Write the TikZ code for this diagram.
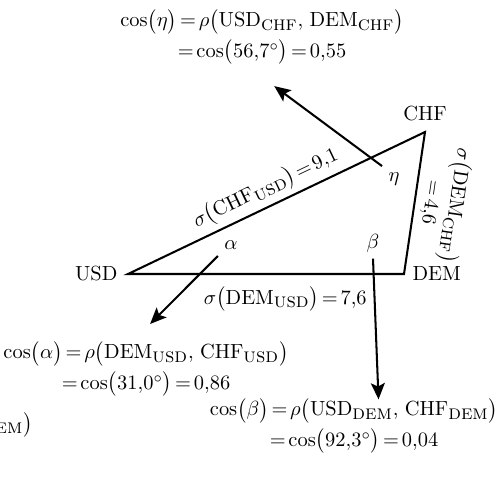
\documentclass[tikz,border=0pt]{standalone}
\usepackage{amsmath}
\usepackage{tikz}
\usetikzlibrary{positioning, arrows.meta}
\newcommand{\cc}[1]{_{\mbox{\normalsize\textsc{#1}}}}
\thickmuskip=2.5mu plus 1mu

\begin{document}
\begin{tikzpicture}[
        x=0.0172cm, y=-0.0172cm,
        side/.style={line width=1pt, line join=miter},
        curr/.style={inner sep=3pt},
        angle/.style={inner sep=3pt},
        sidelabel/.style={inner sep=2pt},
        formula/.style={align=center},
        arrow/.style={line width=1pt, -{Stealth[length=2.8mm, width=2.4mm, inset=0.6mm]}}
    ]
    \useasboundingbox (0,0) rectangle (496,477);

    % triangle of currencies
    \coordinate (usd) at (128,274);
    \coordinate (dem) at (404,274);
    \coordinate (chf) at (425,132);
    \draw[side] (usd) -- (dem) -- (chf) -- cycle;

    \node[curr, left=2pt of usd] (usdlabel) {USD};
    \node[curr, right=1pt of dem] (demlabel) {DEM};
    \node[curr, above=2pt of chf] (chflabel) {CHF};

    % volatilities along the sides
    \path (usd) -- node[sidelabel, sloped, above=0.5pt, pos=0.49] (sigchf) {$\sigma\bigl(\mathrm{CHF}\cc{usd}\bigr) = 9{,}1$} (chf);
    \path (usd) -- node[sidelabel, below=4pt, pos=0.57] (sigdem) {$\sigma\bigl(\mathrm{DEM}\cc{usd}\bigr) = 7{,}6$} (dem);
    \path (chf) -- node[sidelabel, sloped, allow upside down, above=1pt, pos=0.48, align=center] (sigdemchf) {$\sigma\bigl(\mathrm{DEM}\cc{chf}\bigr)$\\$= 4{,}6$} (dem);

    % angles
    \node[angle] (alpha) at (231,245) {$\alpha$};
    \node[angle] (beta) at (373,243) {$\beta$};
    \node[angle] (eta) at (394,179) {$\eta$};

    % correlations
    \node[formula] (feta) at (262,37) {$\cos\bigl(\eta\bigr) = \rho\bigl(\mathrm{USD}\cc{chf},\;\mathrm{DEM}\cc{chf}\bigr)$\\[2pt]$= \cos\bigl(56{,}7^\circ\bigr) = 0{,}55$};
    \node[formula] (falpha) at (146,369) {$\cos\bigl(\alpha\bigr) = \rho\bigl(\mathrm{DEM}\cc{usd},\;\mathrm{CHF}\cc{usd}\bigr)$\\[2pt]$= \cos\bigl(31{,}0^\circ\bigr) = 0{,}86$};
    \node[formula] (fbeta) at (354,426) {$\cos\bigl(\beta\bigr) = \rho\bigl(\mathrm{USD}\cc{dem},\;\mathrm{CHF}\cc{dem}\bigr)$\\[2pt]$= \cos\bigl(92{,}3^\circ\bigr) = 0{,}04$};

    \begin{scope}
        \clip (0,0) rectangle (496,477);
        \node[anchor=east] (cutoff) at (40,425) {${}\cc{dem}\bigr)$};
    \end{scope}

    \draw[arrow] (eta.north west) -- ([xshift=6pt, yshift=-7pt]feta.south);
    \draw[arrow] (alpha.south west) -- ([xshift=2pt, yshift=5pt]falpha.north);
    \draw[arrow] (beta.south) -- ([xshift=12pt, yshift=-4pt]fbeta.north);
\end{tikzpicture}
\end{document}
